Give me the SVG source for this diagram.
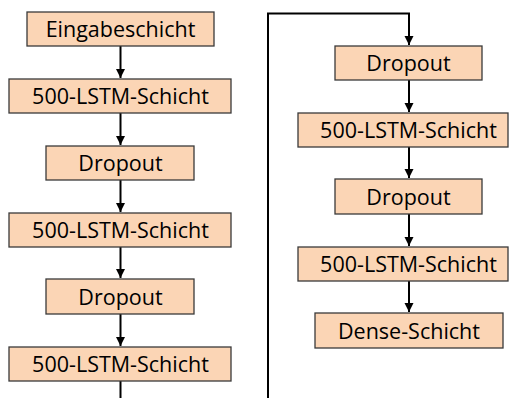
<svg xmlns="http://www.w3.org/2000/svg" width="510" height="398" viewBox="0 0 510 398">
<style>
.b{fill:#FBD5B5;stroke:#3a3a3a;stroke-width:1.3}
.t{font-family:"Open Sans","Liberation Sans",sans-serif;font-size:21.5px;fill:#000;text-anchor:middle}
.c{fill:none;stroke:#000;stroke-width:2}
</style>
<defs>
<marker id="a" viewBox="0 0 10 10" refX="10" refY="5" markerWidth="13" markerHeight="9" markerUnits="userSpaceOnUse" orient="auto" overflow="visible">
<path d="M0,0 L10,5 L0,10 z" fill="#000"/>
</marker>
</defs>
<g id="connectors">
<path class="c" d="M120.5,46 V78" marker-end="url(#a)"/>
<path class="c" d="M120.5,113 V145" marker-end="url(#a)"/>
<path class="c" d="M120.5,180 V212" marker-end="url(#a)"/>
<path class="c" d="M120.5,247 V278" marker-end="url(#a)"/>
<path class="c" d="M120.5,314 V346" marker-end="url(#a)"/>
<path class="c" d="M120.5,381 V398"/>
<path class="c" d="M268,398 V13.5 H409 V45" marker-end="url(#a)"/>
<path class="c" d="M409,80 V112" marker-end="url(#a)"/>
<path class="c" d="M409,147 V178" marker-end="url(#a)"/>
<path class="c" d="M409,214 V246" marker-end="url(#a)"/>
<path class="c" d="M409,281 V312" marker-end="url(#a)"/>
</g>
<g id="n1"><rect class="b" x="27" y="12" width="187" height="34"/><text class="t" x="120.5" y="37">Eingabeschicht</text></g>
<g id="n2"><rect class="b" x="9" y="79" width="222" height="34"/><text class="t" x="120.5" y="104">500-LSTM-Schicht</text></g>
<g id="n3"><rect class="b" x="46" y="146" width="148" height="34"/><text class="t" x="120.5" y="171">Dropout</text></g>
<g id="n4"><rect class="b" x="9" y="213" width="222" height="34"/><text class="t" x="120.5" y="238">500-LSTM-Schicht</text></g>
<g id="n5"><rect class="b" x="46" y="279" width="148" height="35"/><text class="t" x="120.5" y="305">Dropout</text></g>
<g id="n6"><rect class="b" x="9" y="347" width="222" height="34"/><text class="t" x="120.5" y="372">500-LSTM-Schicht</text></g>
<g id="n7"><rect class="b" x="335" y="46" width="147" height="34"/><text class="t" x="408.5" y="71">Dropout</text></g>
<g id="n8"><rect class="b" x="298" y="113" width="210" height="34"/><text class="t" x="408.5" y="138">500-LSTM-Schicht</text></g>
<g id="n9"><rect class="b" x="335" y="179" width="147" height="35"/><text class="t" x="408.5" y="205">Dropout</text></g>
<g id="n10"><rect class="b" x="298" y="247" width="210" height="34"/><text class="t" x="408.5" y="272">500-LSTM-Schicht</text></g>
<g id="n11"><rect class="b" x="315" y="313" width="188" height="35"/><text class="t" x="409" y="339">Dense-Schicht</text></g>
</svg>
